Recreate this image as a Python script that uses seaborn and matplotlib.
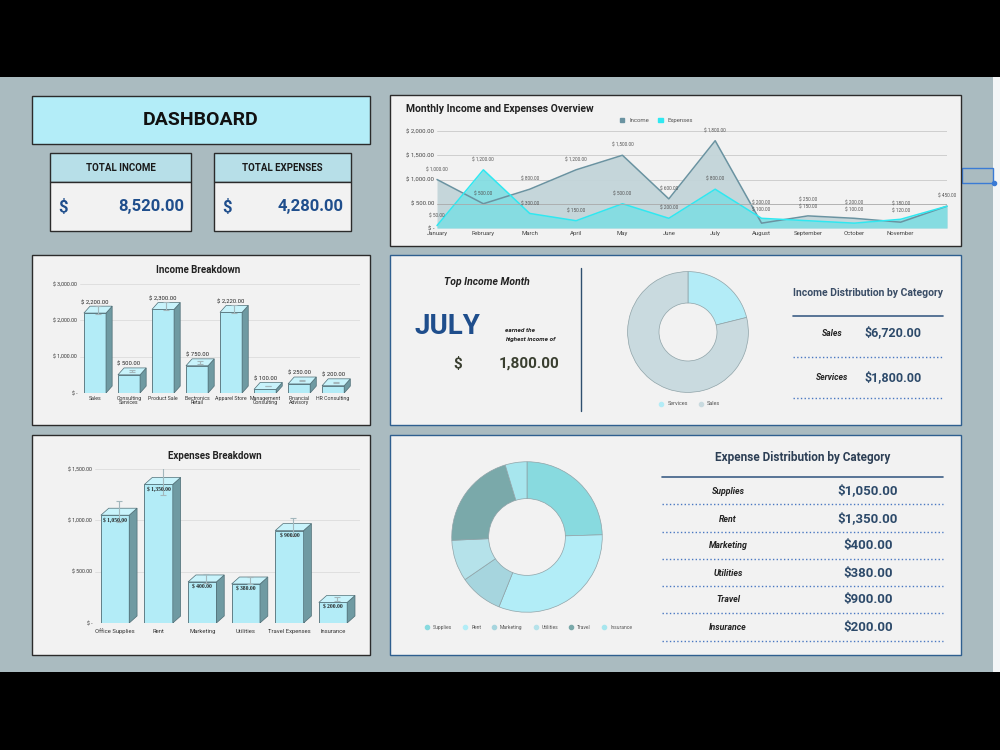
import numpy as np
import pandas as pd
import matplotlib
matplotlib.use("Agg")
from matplotlib import pyplot as plt
from matplotlib.patches import Rectangle, Polygon
from matplotlib.lines import Line2D
from matplotlib.ticker import FuncFormatter
import seaborn as sns

# ---- data ----
months = ["January", "February", "March", "April", "May", "June", "July",
          "August", "September", "October", "November", "December"]
income_monthly = [1000, 500, 800, 1200, 1500, 600, 1800, 100, 250, 200, 120, 450]
expense_monthly = [50, 1200, 300, 150, 500, 200, 800, 200, 150, 100, 180, 450]

income_sources = ["Sales", "Consulting\nServices", "Product Sale", "Electronics\nRetail",
                  "Apparel Store", "Management\nConsulting", "Financial\nAdvisory", "HR Consulting"]
income_amounts = [2200, 500, 2300, 750, 2220, 100, 250, 200]
income_err = [110, 25, 115, 38, 110, 5, 13, 10]

expense_items = ["Office Supplies", "Rent", "Marketing", "Utilities", "Travel Expenses", "Insurance"]
expense_amounts = [1050, 1350, 400, 380, 900, 200]
expense_err = [105, 135, 40, 38, 90, 20]

income_cats = ["Sales", "Services"]
income_cat_amounts = [6720, 1800]
income_cat_colors = ["#c9dadf", "#b3ecf7"]

expense_cats = ["Supplies", "Rent", "Marketing", "Utilities", "Travel", "Insurance"]
expense_cat_colors = ["#88dadf", "#b2edf7", "#a6d5de", "#b5e2ea", "#7aa9aa", "#a7e6ee"]

# ---- style ----
sns.set_theme(style="white")
plt.rcParams["font.family"] = ["Roboto", "DejaVu Sans"]

BG = "#aabbc0"
PANEL = "#f2f2f2"
NAVY = "#1f4e8c"

fig = plt.figure(figsize=(10, 7.5), dpi=100, facecolor="black")

bg = fig.add_axes([0, 0, 1, 1])
bg.set_xlim(0, 1000)
bg.set_ylim(750, 0)
bg.axis("off")


def px_axes(x0, y0, x1, y1):
    # axes from pixel box (top-left origin)
    return fig.add_axes([x0 / 1000, 1 - y1 / 750, (x1 - x0) / 1000, (y1 - y0) / 750])


def box(x, y, w, h, fc, ec="#2b2b2b", lw=1.0):
    bg.add_patch(Rectangle((x, y), w, h, facecolor=fc, edgecolor=ec, lw=lw))


def money(v):
    return "$ -" if v == 0 else f"$ {v:,.2f}"


# background bands
bg.add_patch(Rectangle((0, 0), 1000, 77, facecolor="black", lw=0))
bg.add_patch(Rectangle((0, 77), 1000, 595, facecolor=BG, lw=0))
bg.add_patch(Rectangle((993, 77), 7, 595, facecolor="#f4f6f7", lw=0))
bg.add_patch(Rectangle((962, 168), 31, 15, facecolor="none", edgecolor="#3a7bd5", lw=1))
bg.plot([994], [183], "o", color="#3a7bd5", ms=3)

# panels
box(32, 96, 338, 48, "#b3edf8")
bg.text(201, 120, "DASHBOARD", ha="center", va="center", fontsize=14, fontweight="bold", color="#111")

for (x0, w, title, val) in [(50, 141, "TOTAL INCOME", sum(income_monthly)),
                            (214, 137, "TOTAL EXPENSES", sum(expense_monthly))]:
    box(x0, 153, w, 29, "#b7dfe8")
    box(x0, 182, w, 49, PANEL)
    bg.text(x0 + w / 2, 168, title, ha="center", va="center", fontsize=7, fontweight="bold", color="#1a1a1a")
    bg.text(x0 + 8, 207, "$", ha="left", va="center", fontsize=12, fontweight="bold", color=NAVY)
    bg.text(x0 + w - 7, 207, f"{val:,.2f}", ha="right", va="center", fontsize=12, fontweight="bold", color=NAVY)

box(390, 95, 571, 151, PANEL)
box(32, 255, 338, 170, PANEL)
box(32, 435, 338, 220, PANEL)
box(390, 255, 571, 170, PANEL, ec="#2f5f8f")
box(390, 435, 571, 220, PANEL, ec="#2f5f8f")

# ---- monthly line chart ----
ax = px_axes(437, 131, 947, 228)
xs = np.arange(len(months))
ax.fill_between(xs, income_monthly, color="#c3d5d9", alpha=0.95, lw=0)
ax.fill_between(xs, expense_monthly, color="#7fdde2", alpha=0.9, lw=0)
sns.lineplot(x=xs, y=income_monthly, color="#6a93a1", lw=1.1, ax=ax)
sns.lineplot(x=xs, y=expense_monthly, color="#2fe8f1", lw=1.1, ax=ax)
for line in ax.lines:
    line.set_clip_on(False)
ax.set_xlim(0, 11)
ax.set_ylim(0, 2000)
ax.set_facecolor("none")
for yv in [500, 1000, 1500, 2000]:
    ax.axhline(yv, color="#c9c9c9" if yv != 500 else "#a9a9a9", lw=0.6, zorder=3 if yv == 500 else 0)
ax.axhline(0, color="#a0a0a0", lw=0.6)
ax.set_yticks([0, 500, 1000, 1500, 2000])
ax.yaxis.set_major_formatter(FuncFormatter(lambda v, p: money(v)))
ax.set_xticks(xs[:11])
ax.set_xticklabels(months[:11])
ax.tick_params(labelsize=4.3, colors="#444", length=0, pad=2)
sns.despine(ax=ax, left=True, bottom=True)

# value labels; where the two series sit close together, stack the labels
for xi, vi, ve in zip(xs, income_monthly, expense_monthly):
    if vi == ve:
        ax.annotate(money(vi), (xi, vi), xytext=(0, 6), textcoords="offset points",
                    ha="center", fontsize=3.4, color="#555")
    elif abs(vi - ve) < 200:
        top = max(vi, ve)
        hi, lo = (vi, ve) if vi > ve else (ve, vi)
        ax.annotate(money(hi), (xi, top), xytext=(0, 10), textcoords="offset points",
                    ha="center", fontsize=3.4, color="#555")
        ax.annotate(money(lo), (xi, top), xytext=(0, 5), textcoords="offset points",
                    ha="center", fontsize=3.4, color="#555")
    else:
        for v in (vi, ve):
            ax.annotate(money(v), (xi, v), xytext=(0, 6), textcoords="offset points",
                        ha="center", fontsize=3.4, color="#555")

ax.legend(handles=[Rectangle((0, 0), 1, 1, color="#6a93a1"), Rectangle((0, 0), 1, 1, color="#2fe8f1")],
          labels=["Income", "Expenses"], loc="center", bbox_to_anchor=(0.43, 1.11), ncol=2,
          frameon=False, fontsize=4.3, handlelength=0.8, handleheight=0.8, columnspacing=1.5,
          labelcolor="#555")
bg.text(406, 109, "Monthly Income and Expenses Overview", ha="left", va="center",
        fontsize=7.5, fontweight="bold", color="#222")


# ---- bar charts with pseudo-3D faces ----
def bars3d(ax, names, vals, errs, ymax, dy, inside):
    data = pd.DataFrame({"name": names, "value": vals})
    sns.barplot(data=data, x="name", y="value", color="#b3ecf7", edgecolor="#4f6e76",
                linewidth=0.6, width=0.65, errorbar=None, saturation=1, ax=ax, zorder=2)
    dx = 0.18
    for p, v in zip(list(ax.patches), vals):
        x0, w = p.get_x(), p.get_width()
        ax.add_patch(Polygon([(x0 + w, 0), (x0 + w + dx, dy), (x0 + w + dx, v + dy), (x0 + w, v)],
                             closed=True, facecolor="#6f9aa2", edgecolor="#4f6e76", lw=0.5, zorder=2))
        ax.add_patch(Polygon([(x0, v), (x0 + dx, v + dy), (x0 + w + dx, v + dy), (x0 + w, v)],
                             closed=True, facecolor="#c8f3fb", edgecolor="#4f6e76", lw=0.5, zorder=2))
    pos = np.arange(len(vals))
    ax.errorbar(pos + 0.09, np.array(vals) + dy / 2, yerr=errs, fmt="none", ecolor="#a3b7bc",
                elinewidth=0.8, capsize=2, capthick=0.8, zorder=3)
    for xi, v in zip(pos, vals):
        if inside:
            ax.text(xi, v - dy * 0.35, money(v), ha="center", va="top", fontsize=4,
                    fontweight="bold", family=["Liberation Serif", "DejaVu Serif"], color="#222", zorder=4)
        else:
            ax.text(xi, v + dy * 1.15, money(v), ha="center", va="bottom", fontsize=4.2,
                    color="#222", zorder=4)
    ax.set_ylim(0, ymax)
    ax.set_facecolor("none")
    ax.set_xlabel("")
    ax.set_ylabel("")
    ax.yaxis.set_major_formatter(FuncFormatter(lambda v, p: money(v)))
    ax.grid(axis="y", color="#dcdcdc", lw=0.6)
    ax.set_axisbelow(True)
    ax.tick_params(labelsize=3.8, colors="#333", length=0, pad=2)
    sns.despine(ax=ax, left=True, bottom=True)


ax_i = px_axes(80, 284, 360, 393)
bars3d(ax_i, income_sources, income_amounts, income_err, 3000, 190, False)
ax_i.set_yticks([0, 1000, 2000, 3000])
ax_i.set_xlim(-0.44, 7.79)
for lab in ax_i.get_xticklabels():
    lab.set_linespacing(0.9)
bg.text(198, 270, "Income Breakdown", ha="center", va="center", fontsize=7, fontweight="bold", color="#222")

ax_e = px_axes(95, 469, 360, 623)
bars3d(ax_e, expense_items, expense_amounts, expense_err, 1500, 68, True)
ax_e.set_yticks([0, 500, 1000, 1500])
ax_e.set_xlim(-0.46, 5.62)
ax_e.tick_params(axis="x", labelsize=4.2, pad=4)
bg.text(215, 456, "Expenses Breakdown", ha="center", va="center", fontsize=7, fontweight="bold", color="#222")

# ---- top income month ----
top_idx = int(np.argmax(income_monthly))
bg.text(487, 282, "Top Income Month", ha="center", va="center", fontsize=7.5,
        fontweight="bold", style="italic", color="#222")
bg.text(447, 327, months[top_idx].upper(), ha="center", va="center", fontsize=20,
        fontweight="bold", color=NAVY)
bg.text(505, 330, "earned the", ha="left", va="center", fontsize=4.6, fontweight="bold",
        style="italic", color="#222")
bg.text(505, 339, "highest income of", ha="left", va="center", fontsize=4.6, fontweight="bold",
        style="italic", color="#222")
bg.text(458, 364, "$", ha="center", va="center", fontsize=11, fontweight="bold", color="#3a3f30")
bg.text(529, 364, f"{income_monthly[top_idx]:,.2f}", ha="center", va="center", fontsize=11,
        fontweight="bold", color="#3a3f30")
bg.plot([581, 581], [268, 411], color="#2f4f6f", lw=1)

# ---- income donut ----
ax_p = px_axes(627, 271, 749, 393)
ax_p.pie(income_cat_amounts[::-1], colors=income_cat_colors[::-1], startangle=90, counterclock=False,
         radius=1, wedgeprops=dict(width=0.52, edgecolor="#8fa3a8", linewidth=0.5))
ax_p.set_xlim(-1.01, 1.01)
ax_p.set_ylim(-1.01, 1.01)
ax_p.legend(handles=[Line2D([], [], marker="o", ls="", color=c, ms=3) for c in income_cat_colors[::-1]],
            labels=income_cats[::-1], loc="center", bbox_to_anchor=(0.5, -0.09), ncol=2, frameon=False,
            fontsize=4, handletextpad=0.2, columnspacing=1.2, labelcolor="#555")

bg.text(868, 293, "Income Distribution by Category", ha="center", va="center", fontsize=7.5,
        fontweight="bold", color="#3a4d66")
bg.plot([793, 943], [316, 316], color="#3d5f86", lw=1.2)
for yy, cat, amt in zip([333, 378], income_cats, income_cat_amounts):
    bg.text(832, yy, cat, ha="center", va="center", fontsize=6.2, fontweight="bold",
            style="italic", color="#222")
    bg.text(893, yy, f"${amt:,.2f}", ha="center", va="center", fontsize=9,
            fontweight="bold", color="#2d4a6a")
    bg.plot([793, 943], [yy + 24 if yy == 333 else yy + 20] * 2, color="#4a78c2", lw=1, ls=":")

# ---- expense donut ----
ax_q = px_axes(451, 461, 603, 613)
ax_q.pie(expense_amounts, colors=expense_cat_colors, startangle=90, counterclock=False, radius=1,
         wedgeprops=dict(width=0.49, edgecolor="#8fa3a8", linewidth=0.5))
ax_q.set_xlim(-1.01, 1.01)
ax_q.set_ylim(-1.01, 1.01)
ax_q.legend(handles=[Line2D([], [], marker="o", ls="", color=c, ms=3) for c in expense_cat_colors],
            labels=expense_cats, loc="center", bbox_to_anchor=(0.5, -0.095), ncol=6, frameon=False,
            fontsize=3.6, handletextpad=0.2, columnspacing=1.6, labelcolor="#555")

bg.text(803, 458, "Expense Distribution by Category", ha="center", va="center", fontsize=8.5,
        fontweight="bold", color="#2d3f55")
bg.plot([662, 943], [477, 477], color="#3d5f86", lw=1.2)
row_y = [491, 519, 546, 573, 600, 628]
for yy, cat, amt in zip(row_y, expense_cats, expense_amounts):
    bg.text(728, yy, cat, ha="center", va="center", fontsize=6.3, fontweight="bold",
            style="italic", color="#222")
    bg.text(868, yy, f"${amt:,.2f}", ha="center", va="center", fontsize=9.5,
            fontweight="bold", color="#2d4a6a")
    bg.plot([662, 943], [yy + 13, yy + 13], color="#4a78c2", lw=1, ls=":")

fig.savefig("out.png", dpi=100, facecolor="black")
